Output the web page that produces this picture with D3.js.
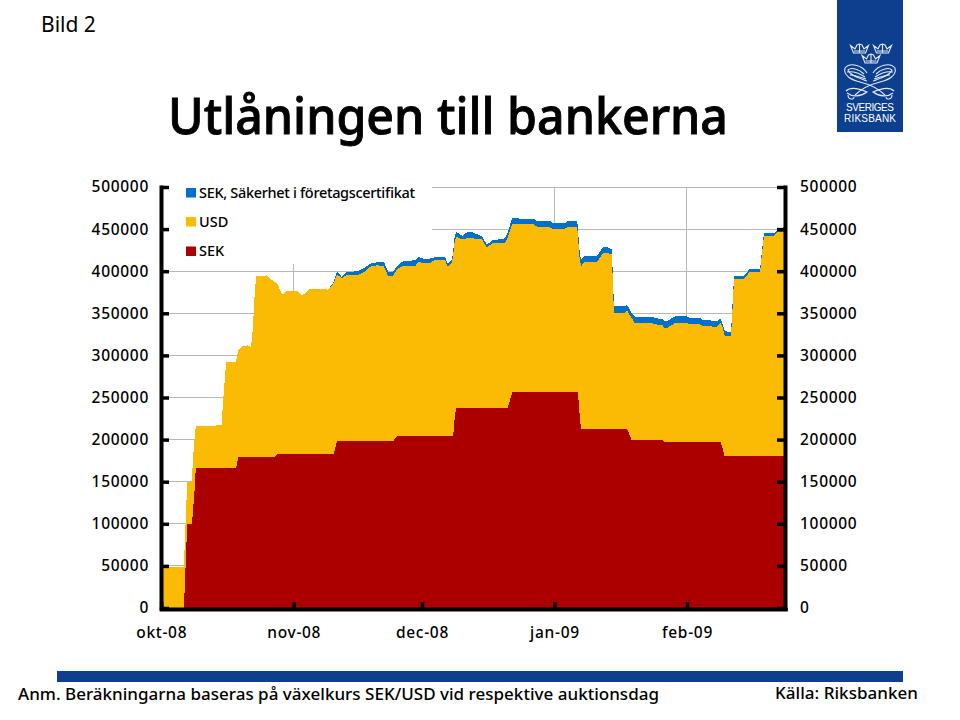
<!DOCTYPE html>
<html><head><meta charset="utf-8">
<script src="https://d3js.org/d3.v7.min.js"></script>
<style>
html,body{margin:0;padding:0;background:#fff}
svg{display:block}
text{font-family:"Noto Sans",sans-serif;fill:#000}
.tick text{font-size:15.5px;font-family:"Noto Sans",sans-serif;font-weight:500;letter-spacing:.7px}
</style></head><body>
<svg id="c" width="960" height="720"></svg>
<script>
// Days after 2008-10-01
const dayOffsets=[0,5.3,5.5,5.7,5.9,6.1,7.2,7.4,7.8,8.1,12.6,12.8,14.2,14.3,14.7,15.2,17.5,18,19.1,20.3,21,21.5,21.7,22.2,24.7,25.9,26.4,27.1,28.3,29.4,31.8,32.9,33.6,34.8,37.8,39,40,40.4,41.1,42.3,43.2,45.8,47.2,49.1,50.5,52.1,53.1,54.2,55.2,56.6,59.4,60.1,61.2,62.9,64,66.4,67.1,68,68.3,68.6,69,70.4,71.5,72.9,75,76.2,77.4,80.4,81.1,82.1,83.9,87,88.1,90.9,91.6,94.5,95.2,97.3,97.5,97.8,98.2,99.1,101.9,103.3,104.3,105.4,105.7,105.9,108.5,109,110.1,110.8,115,115.5,117.4,117.6,118.3,120.2,123,123.7,126,126.7,130,130.9,131.4,131.8,133,133.3,133.7,134,136.3,137.7,140.1,140.5,141,143.3,144,145.5,146];
// Thousands of SEK million
const sek=[0,0,24,49,75,100,100,113,140,166,166,166,166,166,166,166,166,179,179,179,179,179,179,179,179,179,179,183,183,183,183,183,183,183,183,183,183,183,198,198,198,198,198,198,198,198,198,198,204,204,204,204,204,204,204,204,204,204,204,223,238,238,238,238,238,238,238,238,238,256,256,256,256,256,256,256,256,256,256,235,213,213,213,213,213,213,213,213,213,213,199,199,199,199,199,197,197,197,197,197,197,197,197,197,189,180,180,180,180,180,180,180,180,180,180,180,180,180,180];
const usd=[49,49,51,51,50,50,50,63,60,50,50,51,51,66,95,126,126,127,132,133,131,155,181,215,216,210.5,209,203,189,193.5,193.5,189,190,196,196,195,200.6,203,198,194,197,197,200,208,209,208,196,196,198.6,202,202,207,206,206,209,209,201,206,215,210,203,200,201,201,200,190,195,195,202.6,200.5,199.5,200.5,196,196,194.5,194.5,197,196,186.5,184,193,198,198,208,209,207,170,137.5,137.5,140,145,139,139,138,136.5,135.5,135.5,141.5,141.5,140,140,138,137,141.5,143.5,143.5,142.5,142.5,179.5,210.5,210.5,219.5,219.5,238.5,261.5,261.5,266,267,267];
const certifikat=[0,0,0,0,0,0,0,0,0,0,0,0,0,0,0,0,0,0,0,0,0,0,0,0,0,0,0,0,0,0,0,0,0,0,0,0,1,2,3.5,1,3.5,5,5,3.5,3.5,5,5,5,3.5,6,7,6,5,5,3.5,3.5,3.5,3.5,3.5,6,6,4,7,7,3.5,3.5,3.5,6,6,7,7,6,7,8,7,7,7,8,8,8,8,7,7,7,7,6,8,8,8,7,6,8,8,7,8,8,8,8,8,7,8,7,7,5,3.5,6,5,5,6,3.5,3.5,3.5,3.5,3.5,3.5,3.5,2.5,5,5];
const seriesNames=["SEK, Säkerhet i företagscertifikat","USD","SEK"];
const seriesColors=["#0070c8","#fbbb05","#ab0000"];
const yTicks=[0,50000,100000,150000,200000,250000,300000,350000,400000,450000,500000];
const xTickDates=["2008-10-01","2008-11-01","2008-12-01","2009-01-01","2009-02-01"];
const xTickLabels=["okt-08","nov-08","dec-08","jan-09","feb-09"];

const start=Date.UTC(2008,9,1);
const rows=dayOffsets.map((d,i)=>({date:new Date(start+d*864e5),sek:sek[i]*1000,usd:usd[i]*1000,cert:certifikat[i]*1000}));
const svg=d3.select("#c");
const x=d3.scaleUtc().domain([new Date(start),new Date(Date.UTC(2009,1,24))]).range([161.2,785.3]);
const y=d3.scaleLinear().domain([0,500000]).range([608,187]);
const tickDates=xTickDates.map(s=>new Date(s+"T00:00:00Z"));

// Grid
const grid=svg.append("g").attr("stroke","#b8b8b8").attr("stroke-width",1).attr("shape-rendering","crispEdges");
grid.selectAll(".h").data(yTicks.slice(1)).join("line").attr("x1",x.range()[0]).attr("x2",x.range()[1]).attr("y1",d=>y(d)).attr("y2",d=>y(d));
grid.selectAll(".v").data(tickDates.slice(1)).join("line").attr("y1",y(0)).attr("y2",y(500000)).attr("x1",d=>x(d)).attr("x2",d=>x(d));

// Legend plate hides the grid
svg.append("rect").attr("x",165).attr("y",179).attr("width",267).attr("height",85).attr("fill","#fff");

// Stacked areas
const stack=d3.stack().keys(["sek","usd","cert"])(rows);
const area=d3.area().x(d=>x(d.data.date)).y0(d=>y(d[0])).y1(d=>y(d[1]));
const colorByKey={sek:seriesColors[2],usd:seriesColors[1],cert:seriesColors[0]};
svg.append("g").attr("shape-rendering","crispEdges").selectAll("path").data(stack).join("path").attr("d",area).attr("fill",d=>colorByKey[d.key]);

// Axes
function style(g){
  g.select(".domain").attr("stroke","#000").attr("stroke-width",4).attr("stroke-linecap","square");
  g.selectAll(".tick line").attr("stroke","#000").attr("stroke-width",3.5);
}
svg.append("g").attr("transform","translate(161,0)").call(d3.axisLeft(y).tickValues(yTicks).tickFormat(d3.format("d")).tickSizeInner(-8).tickSizeOuter(0).tickPadding(12)).call(style);
svg.append("g").attr("transform","translate(785,0)").call(d3.axisRight(y).tickValues(yTicks).tickFormat(d3.format("d")).tickSizeInner(-8).tickSizeOuter(0).tickPadding(15)).call(style);
svg.append("g").attr("transform","translate(0,609)").call(d3.axisBottom(x).tickValues(tickDates).tickFormat((d,i)=>xTickLabels[i]).tickSizeInner(-7).tickSizeOuter(0).tickPadding(18)).call(style);

// Legend
const lg=svg.append("g");
seriesNames.forEach((n,i)=>{
  const yy=[188,217,246.5][i];
  lg.append("rect").attr("x",186).attr("y",yy).attr("width",10).attr("height",9.5).attr("fill",seriesColors[i]);
  const t=lg.append("text").attr("x",199).attr("y",yy+9.5).attr("font-size",14.5).attr("font-weight",500).text(n);
  if(i===0)t.attr("textLength",216).attr("lengthAdjust","spacing");
});

// Titles and notes
svg.append("text").attr("x",41).attr("y",32).attr("font-size",21).text("Bild 2");
svg.append("text").attr("x",168).attr("y",134).attr("font-size",51).attr("font-weight",500).attr("stroke","#000").attr("stroke-width",0.9).attr("textLength",560).attr("lengthAdjust","spacingAndGlyphs").text("Utlåningen till bankerna");
svg.append("rect").attr("x",57).attr("y",671).attr("width",846).attr("height",11).attr("fill","#0d3f8f");
svg.append("text").attr("x",18).attr("y",700).attr("font-size",17).attr("font-weight",500).attr("textLength",641).attr("lengthAdjust","spacing").text("Anm. Beräkningarna baseras på växelkurs SEK/USD vid respektive auktionsdag");
svg.append("text").attr("x",775).attr("y",699).attr("font-size",17).attr("font-weight",500).attr("textLength",143).attr("lengthAdjust","spacing").text("Källa: Riksbanken");

// Logo
const logo=svg.append("g");
logo.append("rect").attr("x",837).attr("y",0).attr("width",66).attr("height",132).attr("fill","#0d3f8f");
const w=logo.append("g").attr("fill","none").attr("stroke","#e4eaf4").attr("stroke-width",1.1);
[[850.5,44],[873.5,44],[862,54]].forEach(([cx,cy])=>{
  w.append("path").attr("transform",`translate(${cx},${cy})`).attr("d","M0,1.5 L4.5,5 L6.5,1 L9,0 L11.5,1 L13.5,5 L18,1.5 L15,9 L3,9 Z M9,0 L9,9 M3.5,7 L14.5,7");
});
["","translate(1740,0) scale(-1,1)"].forEach(tr=>{
  w.append("g").attr("transform",tr).selectAll("path").data([
    "M873,73 C878,65 890,62 895,68 C897,76 888,80 880,82 C872,84 862,88 855,95",
    "M876,74 C881,69 889,67 892,70 C891,75 881,78 873,81",
    "M875,77 C881,73 888,71 893,72",
    "M874,79 C880,77 886,75 890,75",
    "M846,91 C850,87 858,88 867,92 C860,97 852,97 847,93",
    "M848,95 C848,100 854,100 854,97"
  ]).join("path").attr("d",d=>d);
});
logo.append("text").attr("x",870).attr("y",111).attr("text-anchor","middle").attr("font-size",10).attr("textLength",48).attr("style","font-family:'Liberation Sans';fill:#fff").text("SVERIGES");
logo.append("text").attr("x",870).attr("y",122).attr("text-anchor","middle").attr("font-size",10).attr("textLength",52).attr("style","font-family:'Liberation Sans';fill:#fff").text("RIKSBANK");
</script>
</body></html>
